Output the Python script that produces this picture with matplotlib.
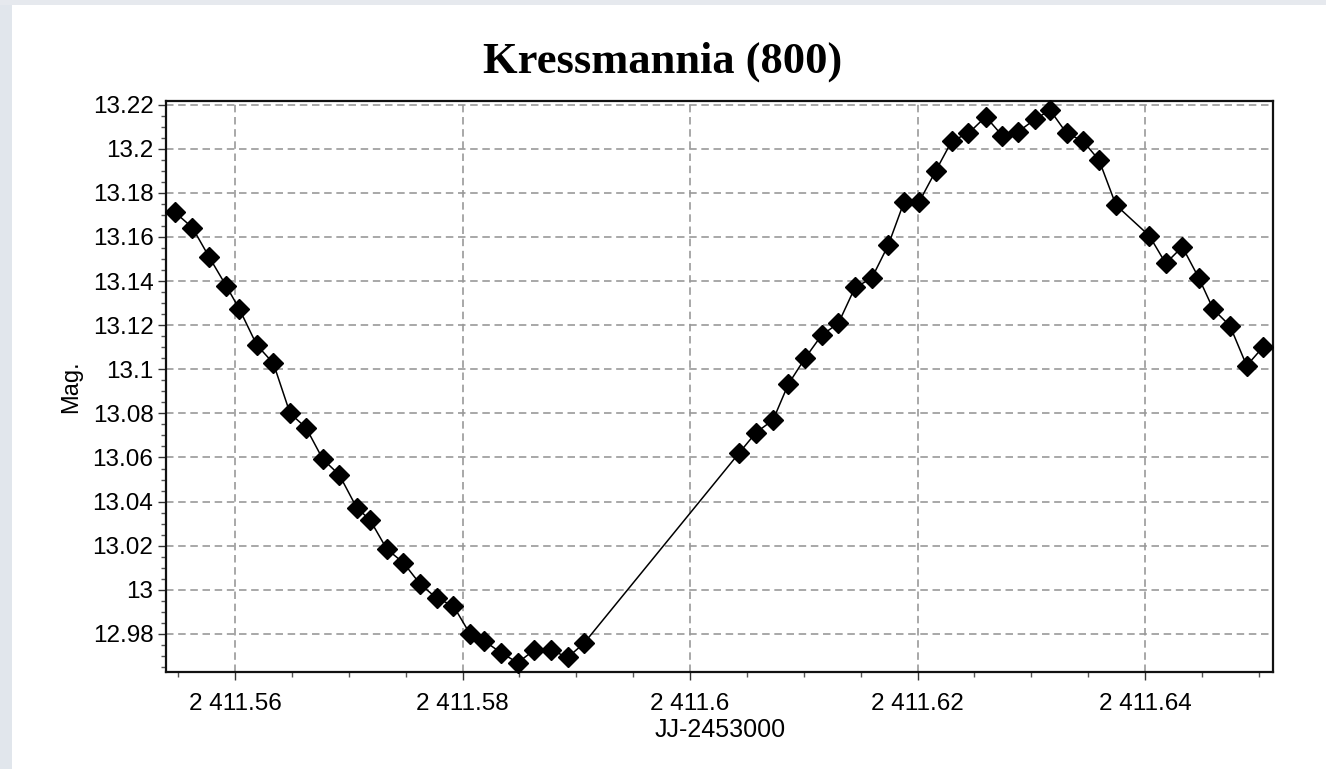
import matplotlib
matplotlib.use("Agg")
import matplotlib.pyplot as plt
from matplotlib.ticker import MultipleLocator, FuncFormatter
from matplotlib.patches import Rectangle

title = "Kressmannia (800)"
xlabel = "JJ-2453000"
ylabel = "Mag."

jd = [2411.55473, 2411.55625, 2411.55771, 2411.55921, 2411.56038, 2411.56191,
      2411.56337, 2411.56484, 2411.56624, 2411.56771, 2411.56917, 2411.57070,
      2411.57187, 2411.57334, 2411.57480, 2411.57626, 2411.57773, 2411.57919,
      2411.58066, 2411.58192, 2411.58338, 2411.58485, 2411.58631, 2411.58778,
      2411.58925, 2411.59068,
      2411.60431, 2411.60580, 2411.60730, 2411.60864, 2411.61011, 2411.61158,
      2411.61304, 2411.61451, 2411.61597, 2411.61743, 2411.61881, 2411.62013,
      2411.62160, 2411.62303, 2411.62447, 2411.62600, 2411.62745, 2411.62886,
      2411.63033, 2411.63165, 2411.63312, 2411.63452, 2411.63596, 2411.63745,
      2411.64038, 2411.64182, 2411.64328, 2411.64475, 2411.64600, 2411.64747,
      2411.64894, 2411.65040]

mag = [13.1711, 13.1642, 13.1510, 13.1379, 13.1273, 13.1110,
       13.1027, 13.0800, 13.0735, 13.0593, 13.0521, 13.0372,
       13.0317, 13.0185, 13.0123, 13.0027, 12.9962, 12.9928,
       12.9800, 12.9768, 12.9715, 12.9670, 12.9727, 12.9727,
       12.9694, 12.9758,
       13.0620, 13.0713, 13.0770, 13.0932, 13.1050, 13.1155,
       13.1208, 13.1371, 13.1412, 13.1563, 13.1757, 13.1757,
       13.1899, 13.2036, 13.2069, 13.2145, 13.2059, 13.2077,
       13.2133, 13.2175, 13.2069, 13.2036, 13.1948, 13.1744,
       13.1605, 13.1480, 13.1555, 13.1412, 13.1272, 13.1197,
       13.1016, 13.1102]

xlim = (2411.55393, 2411.65128)
ylim = (12.9629, 13.2216)

W, H = 1326, 769
fig = plt.figure(figsize=(W / 100, H / 100), dpi=100)
fig.patch.set_facecolor("white")

# light window-frame bands (left and top)
fig.patches.append(Rectangle((0, 0), 12 / W, 1, transform=fig.transFigure,
                             facecolor="#e1e6ec", edgecolor="none", zorder=0))
fig.patches.append(Rectangle((0, 1 - 5 / H), 1, 5 / H, transform=fig.transFigure,
                             facecolor="#e6e9ee", edgecolor="none", zorder=0))

left, right, top, bottom = 166, 1273.3, 101, 671.7
ax = fig.add_axes([left / W, 1 - bottom / H, (right - left) / W, (bottom - top) / H])

ax.plot(jd, mag, color="black", linewidth=1.1, marker="D", markersize=10,
        markerfacecolor="black", markeredgecolor="black", zorder=3, clip_on=False)

ax.set_xlim(*xlim)
ax.set_ylim(*ylim)

ax.xaxis.set_major_locator(MultipleLocator(0.02))
ax.xaxis.set_minor_locator(MultipleLocator(0.005))
ax.yaxis.set_major_locator(MultipleLocator(0.02))
ax.yaxis.set_minor_locator(MultipleLocator(0.005))


def fmt_x(v, pos):
    s = f"{v:.4f}".rstrip("0").rstrip(".")
    ip, _, fp = s.partition(".")
    ip = f"{int(ip):,}".replace(",", " ")
    return ip + ("." + fp if fp else "")


def fmt_y(v, pos):
    return f"{v:.4f}".rstrip("0").rstrip(".")


ax.xaxis.set_major_formatter(FuncFormatter(fmt_x))
ax.yaxis.set_major_formatter(FuncFormatter(fmt_y))

tick_font = "Liberation Sans"
ax.tick_params(axis="both", which="major", direction="out", length=6, width=1,
               labelsize=17.5, color="#333333")
ax.tick_params(axis="both", which="minor", direction="out", length=3.5, width=1,
               color="#555555")
ax.tick_params(axis="x", which="major", pad=9)
ax.tick_params(axis="y", which="major", pad=3)
for lab in ax.get_xticklabels() + ax.get_yticklabels():
    lab.set_fontfamily(tick_font)

ax.grid(True, which="major", color="#999999", linewidth=1.2,
        linestyle=(0, (4.5, 2.8)))
ax.set_axisbelow(True)

for sp in ax.spines.values():
    sp.set_linewidth(1.6)
    sp.set_color("#111111")

ax.set_xlabel(xlabel, fontsize=18, family=tick_font, va="top")
ax.xaxis.set_label_coords(0.5, -0.082)
ax.set_ylabel(ylabel, fontsize=17, family=tick_font)
ax.yaxis.set_label_coords(-0.076, 0.5)

fig.text(0.5, 1 - 73 / H, title, ha="center", va="baseline",
         fontsize=32, fontweight="bold", family="Liberation Serif")

fig.savefig("out.png", dpi=100, facecolor=fig.get_facecolor())
